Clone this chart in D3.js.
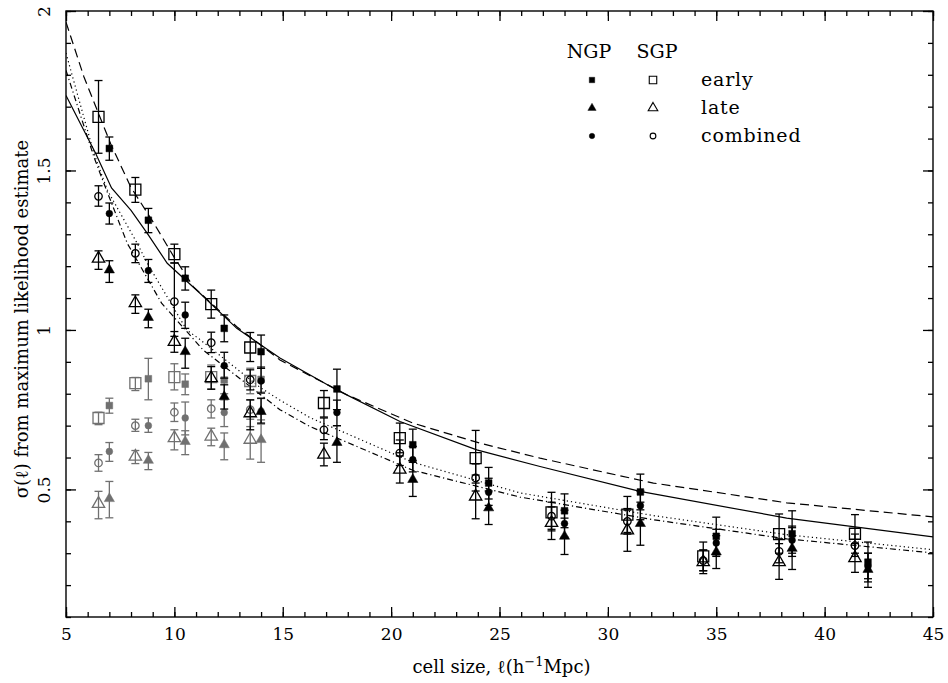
<!DOCTYPE html>
<html>
<head>
<meta charset="utf-8">
<script src="https://cdn.jsdelivr.net/npm/d3@7"></script>
<style>
  body { margin: 0; background: #fff; }
  text { font-family: "DejaVu Serif", serif; fill: #000; }
</style>
</head>
<body>
<div id="chart"></div>
<script>
// cell sizes (h^-1 Mpc): SGP points sit a little left of the NGP ones
const xSGP = [6.5, 8.2, 10.0, 11.7, 13.5, 16.9, 20.4, 23.9, 27.4, 30.9, 34.4, 37.9, 41.4];
const xNGP = [7.0, 8.8, 10.5, 12.3, 14.0, 17.5, 21.0, 24.5, 28.0, 31.5, 35.0, 38.5, 42.0];

// [sigma, low end of bar, high end of bar]
const sgpEarly = [[1.668,1.554,1.782],[1.44,1.40,1.478],[1.238,1.21,1.269],[1.081,1.037,1.125],[0.945,0.901,0.992],
  [0.771,0.727,0.81],[0.661,0.615,0.708],[0.598,0.52,0.685],[0.428,0.37,0.491],[0.421,0.365,0.478],
  [0.29,0.245,0.335],[0.36,0.30,0.423],[0.361,0.30,0.421]];
const ngpEarly = [[1.569,1.532,1.605],[1.344,1.305,1.381],[1.162,1.125,1.198],[1.005,0.963,1.047],[0.932,0.88,0.984],
  [0.815,0.75,0.877],[0.64,0.59,0.689],[0.52,0.47,0.569],[0.433,0.38,0.486],[0.492,0.436,0.548],
  [0.353,0.295,0.413],[0.361,0.29,0.433],[0.272,0.21,0.335]];
const sgpComb = [[1.419,1.388,1.452],[1.24,1.211,1.269],[1.089,0.98,1.21],[0.96,0.929,0.993],[0.844,0.812,0.875],
  [0.687,0.656,0.724],[0.614,0.575,0.655],[0.536,0.495,0.58],[0.416,0.375,0.46],[0.40,0.36,0.44],
  [0.277,0.245,0.31],[0.306,0.27,0.345],[0.324,0.29,0.36]];
const ngpComb = [[1.365,1.332,1.398],[1.186,1.149,1.221],[1.047,1.005,1.087],[0.888,0.849,0.93],[0.84,0.802,0.88],
  [0.741,0.70,0.78],[0.593,0.555,0.635],[0.491,0.45,0.535],[0.393,0.35,0.435],[0.449,0.405,0.495],
  [0.332,0.29,0.375],[0.341,0.30,0.385],[0.259,0.22,0.30]];
const sgpLate = [[1.224,1.19,1.248],[1.084,1.052,1.11],[0.963,0.93,0.995],[0.849,0.814,0.885],[0.739,0.687,0.781],
  [0.609,0.574,0.645],[0.562,0.52,0.605],[0.478,0.408,0.545],[0.395,0.343,0.445],[0.372,0.306,0.435],
  [0.272,0.236,0.31],[0.272,0.218,0.33],[0.285,0.24,0.33]];
const ngpLate = [[1.188,1.149,1.217],[1.039,1.007,1.065],[0.932,0.88,0.974],[0.791,0.752,0.828],[0.744,0.708,0.786],
  [0.647,0.585,0.70],[0.531,0.478,0.585],[0.442,0.39,0.495],[0.353,0.296,0.41],[0.393,0.325,0.46],
  [0.304,0.252,0.355],[0.315,0.249,0.38],[0.249,0.193,0.30]];

// second (grey) set, small cells only
const sgpEarlyG = [[0.724,0.703,0.742],[0.833,0.81,0.851],[0.852,0.812,0.894],[0.852,0.815,0.89],[0.84,0.80,0.88]];
const ngpEarlyG = [[0.763,0.739,0.786],[0.847,0.781,0.911],[0.83,0.797,0.862],[0.843,0.80,0.885],[0.845,0.805,0.885]];
const sgpCombG = [[0.583,0.557,0.609],[0.70,0.682,0.72],[0.742,0.713,0.771],[0.753,0.724,0.781],[0.75,0.72,0.78]];
const ngpCombG = [[0.619,0.588,0.647],[0.70,0.679,0.724],[0.724,0.671,0.774],[0.741,0.697,0.781],[0.745,0.705,0.785]];
const sgpLateG = [[0.455,0.408,0.494],[0.603,0.581,0.622],[0.661,0.624,0.687],[0.666,0.637,0.692],[0.656,0.595,0.697]];
const ngpLateG = [[0.471,0.411,0.525],[0.591,0.562,0.616],[0.65,0.609,0.684],[0.64,0.593,0.677],[0.656,0.585,0.718]];

// model curves
const curveSolid = [[5,1.735],[6.37,1.553],[7.1,1.445],[8,1.375],[8.75,1.303],[9.67,1.209],[11.18,1.115],[12.88,1.005],
  [14.87,0.912],[17.49,0.812],[20.41,0.713],[23.95,0.624],[26.87,0.572],[31.48,0.494],[38.25,0.41],[45,0.351]];
const curveDashed = [[5,1.965],[5.83,1.793],[6.44,1.689],[7.06,1.584],[7.98,1.449],[9.06,1.334],[9.98,1.229],[10.87,1.136],
  [12.88,1.01],[14.87,0.906],[17.95,0.797],[21,0.708],[24.1,0.645],[26.87,0.598],[32.1,0.52],[38.25,0.458],[45,0.414]];
const curveDotted = [[5,1.868],[6.29,1.553],[6.91,1.438],[8.29,1.271],[8.75,1.209],[10.57,1.0],[11.18,0.97],[13.95,0.82],
  [14.87,0.78],[16.26,0.725],[21,0.585],[25.95,0.489],[32.1,0.418],[38.25,0.358],[45,0.311]];
const curveDashDot = [[5,1.814],[6.29,1.542],[6.75,1.459],[7.83,1.271],[8.45,1.198],[9.41,1.084],[11.33,0.937],[13.3,0.833],
  [14.87,0.75],[16.26,0.697],[21,0.56],[25.95,0.476],[32.1,0.405],[38.25,0.345],[45,0.301]];

const xTicks = [5, 10, 15, 20, 25, 30, 35, 40, 45];
const yTicks = [0.5, 1, 1.5, 2];
const legendRows = ["early", "late", "combined"];

const W = 948, H = 683;
const plot = {left: 66, right: 933, top: 11, bottom: 617};

const svg = d3.select("#chart").append("svg")
  .attr("width", W).attr("height", H)
  .style("background", "#fff");

const x = d3.scaleLinear().domain([5, 45]).range([plot.left, plot.right]);
const y = d3.scaleLinear().domain([0.1, 2]).range([plot.bottom, plot.top]);

// ---- axes: inward ticks on all four sides
const xMinor = d3.range(5, 46, 1);
const yMinor = d3.range(0.1, 2.001, 0.1).map(d => +d.toFixed(1));

function styleAxis(g) {
  g.select(".domain").remove();
  g.selectAll("line").attr("stroke", "#000").attr("stroke-width", 1.3);
}

svg.append("g").attr("transform", `translate(0,${plot.bottom})`)
  .call(d3.axisBottom(x).tickValues(xMinor).tickSize(-5).tickFormat(""))
  .call(styleAxis);
svg.append("g").attr("transform", `translate(0,${plot.bottom})`)
  .call(d3.axisBottom(x).tickValues(xTicks).tickSize(-10).tickPadding(11).tickFormat(d3.format("d")))
  .call(styleAxis)
  .selectAll("text").attr("font-size", 17).attr("font-family", "DejaVu Serif");
svg.append("g").attr("transform", `translate(0,${plot.top})`)
  .call(d3.axisTop(x).tickValues(xMinor).tickSize(-5).tickFormat(""))
  .call(styleAxis);
svg.append("g").attr("transform", `translate(0,${plot.top})`)
  .call(d3.axisTop(x).tickValues(xTicks).tickSize(-10).tickFormat(""))
  .call(styleAxis);

svg.append("g").attr("transform", `translate(${plot.left},0)`)
  .call(d3.axisLeft(y).tickValues(yMinor).tickSize(-5).tickFormat(""))
  .call(styleAxis);
const yAxisG = svg.append("g").attr("transform", `translate(${plot.left},0)`)
  .call(d3.axisLeft(y).tickValues(yTicks).tickSize(-10).tickFormat(d => d3.format("")(d)))
  .call(styleAxis);
yAxisG.selectAll("text")
  .attr("x", null).attr("dy", null)
  .attr("text-anchor", "middle")
  .attr("font-size", 17).attr("font-family", "DejaVu Serif")
  .attr("transform", "translate(-16,0) rotate(-90)");
svg.append("g").attr("transform", `translate(${plot.right},0)`)
  .call(d3.axisRight(y).tickValues(yMinor).tickSize(-5).tickFormat(""))
  .call(styleAxis);
svg.append("g").attr("transform", `translate(${plot.right},0)`)
  .call(d3.axisRight(y).tickValues(yTicks).tickSize(-10).tickFormat(""))
  .call(styleAxis);

svg.append("rect")
  .attr("x", plot.left).attr("y", plot.top)
  .attr("width", plot.right - plot.left).attr("height", plot.bottom - plot.top)
  .attr("fill", "none").attr("stroke", "#000").attr("stroke-width", 1.4);

// axis titles
const xt = svg.append("text")
  .attr("x", (plot.left + plot.right) / 2 + 2).attr("y", 673)
  .attr("text-anchor", "middle").attr("font-size", 18);
xt.append("tspan").text("cell size, \u2113(h");
xt.append("tspan").attr("dy", -7).attr("font-size", 13).text("\u22121");
xt.append("tspan").attr("dy", 7).text("Mpc)");

svg.append("text")
  .attr("transform", `translate(28,${(plot.top + plot.bottom) / 2 + 5}) rotate(-90)`)
  .attr("text-anchor", "middle").attr("font-size", 18)
  .text("\u03C3(\u2113) from maximum likelihood estimate");

// ---- model curves
svg.append("clipPath").attr("id", "clip")
  .append("rect").attr("x", plot.left).attr("y", plot.top)
  .attr("width", plot.right - plot.left).attr("height", plot.bottom - plot.top);

const line = d3.line().x(d => x(d[0])).y(d => y(d[1]));
const curves = [
  {pts: curveSolid, dash: null},
  {pts: curveDashed, dash: "9,5"},
  {pts: curveDotted, dash: "1.2,3"},
  {pts: curveDashDot, dash: "6,3,1.2,3"}
];
svg.append("g").attr("clip-path", "url(#clip)")
  .selectAll("path").data(curves).enter().append("path")
  .attr("d", d => line(d.pts))
  .attr("fill", "none").attr("stroke", "#000").attr("stroke-width", 1.2)
  .attr("stroke-dasharray", d => d.dash);

// ---- points with error bars
const sym = {
  fsq: {type: d3.symbolSquare, size: 45, open: false},
  osq: {type: d3.symbolSquare, size: 121, open: true},
  ftri: {type: d3.symbolTriangle, size: 45, open: false},
  otri: {type: d3.symbolTriangle, size: 66, open: true},
  fcir: {type: d3.symbolCircle, size: 36, open: false},
  ocir: {type: d3.symbolCircle, size: 44, open: true}
};

function drawSeries(xs, vals, s, colour) {
  const pts = vals.map((v, i) => ({x: xs[i], v: v[0], lo: v[1], hi: v[2]}));
  const g = svg.append("g");
  const bars = g.selectAll("g.bar").data(pts).enter().append("g")
    .attr("stroke", colour).attr("stroke-width", 1.3);
  bars.append("line")
    .attr("x1", d => x(d.x)).attr("x2", d => x(d.x))
    .attr("y1", d => y(d.lo)).attr("y2", d => y(d.hi));
  bars.append("line")
    .attr("x1", d => x(d.x) - 4).attr("x2", d => x(d.x) + 4)
    .attr("y1", d => y(d.lo)).attr("y2", d => y(d.lo));
  bars.append("line")
    .attr("x1", d => x(d.x) - 4).attr("x2", d => x(d.x) + 4)
    .attr("y1", d => y(d.hi)).attr("y2", d => y(d.hi));
  g.selectAll("path").data(pts).enter().append("path")
    .attr("transform", d => `translate(${x(d.x)},${y(d.v)})`)
    .attr("d", d3.symbol().type(s.type).size(s.size))
    .attr("fill", s.open ? "none" : colour)
    .attr("stroke", colour).attr("stroke-width", s.open ? 1.3 : 0.5);
}

const grey = "#707070";
drawSeries(xSGP, sgpEarlyG, sym.osq, grey);
drawSeries(xNGP, ngpEarlyG, sym.fsq, grey);
drawSeries(xSGP, sgpCombG, sym.ocir, grey);
drawSeries(xNGP, ngpCombG, sym.fcir, grey);
drawSeries(xSGP, sgpLateG, sym.otri, grey);
drawSeries(xNGP, ngpLateG, sym.ftri, grey);

drawSeries(xSGP, sgpEarly, sym.osq, "#000");
drawSeries(xNGP, ngpEarly, sym.fsq, "#000");
drawSeries(xSGP, sgpComb, sym.ocir, "#000");
drawSeries(xNGP, ngpComb, sym.fcir, "#000");
drawSeries(xSGP, sgpLate, sym.otri, "#000");
drawSeries(xNGP, ngpLate, sym.ftri, "#000");

// ---- legend
const leg = svg.append("g");
leg.append("text").attr("x", 589).attr("y", 58).attr("text-anchor", "middle").attr("font-size", 19).text("NGP");
leg.append("text").attr("x", 657).attr("y", 58).attr("text-anchor", "middle").attr("font-size", 19).text("SGP");
const legSym = [
  [{type: d3.symbolSquare, size: 30, open: false}, {type: d3.symbolSquare, size: 56, open: true}],
  [{type: d3.symbolTriangle, size: 30, open: false}, {type: d3.symbolTriangle, size: 40, open: true}],
  [{type: d3.symbolCircle, size: 24, open: false}, {type: d3.symbolCircle, size: 26, open: true}]
];
legendRows.forEach((lab, i) => {
  const yy = 80 + i * 28;
  legSym[i].forEach((s, j) => {
    leg.append("path")
      .attr("transform", `translate(${j === 0 ? 592 : 653},${yy})`)
      .attr("d", d3.symbol().type(s.type).size(s.size))
      .attr("fill", s.open ? "none" : "#000")
      .attr("stroke", "#000").attr("stroke-width", s.open ? 1.1 : 0.4);
  });
  leg.append("text").attr("x", 701).attr("y", yy + 6).attr("font-size", 19)
    .attr("letter-spacing", 0.8).text(lab);
});
</script>
</body>
</html>
